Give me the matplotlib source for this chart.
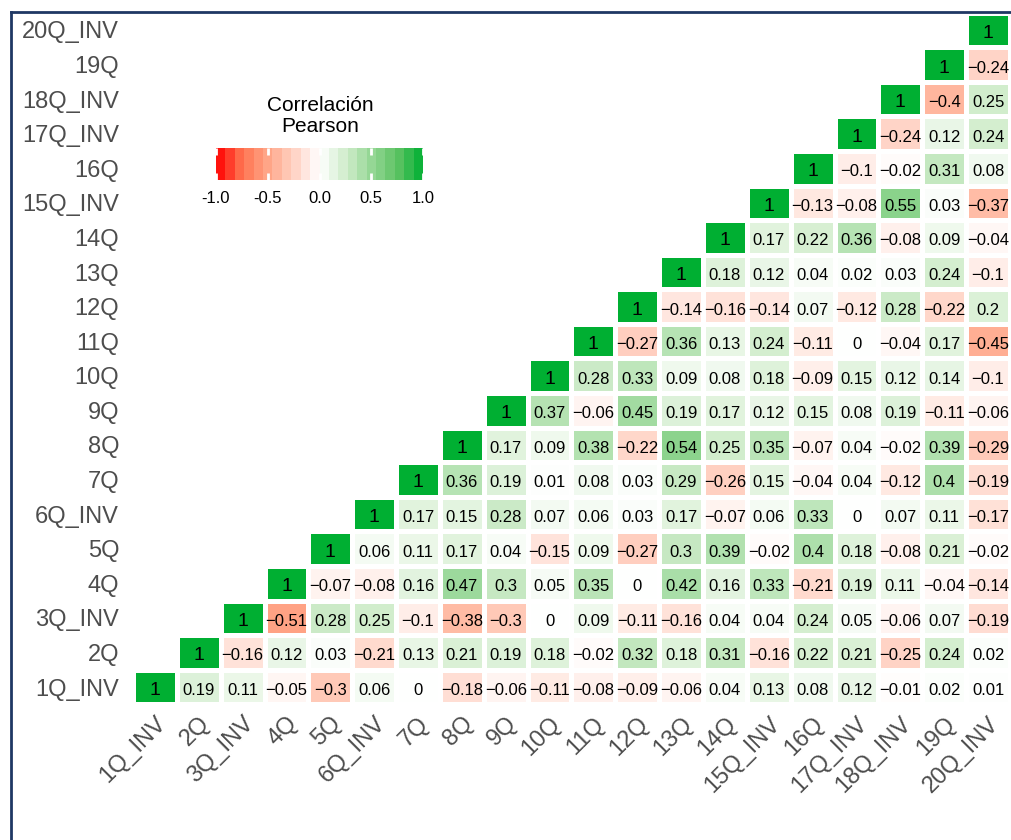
import numpy as np
import matplotlib
matplotlib.use("Agg")
import matplotlib.pyplot as plt
from matplotlib.colors import LinearSegmentedColormap, Normalize
from matplotlib.lines import Line2D

plt.rcParams["font.family"] = ["Liberation Sans", "DejaVu Sans"]

LABELS = ["1Q_INV", "2Q", "3Q_INV", "4Q", "5Q", "6Q_INV", "7Q", "8Q", "9Q", "10Q",
          "11Q", "12Q", "13Q", "14Q", "15Q_INV", "16Q", "17Q_INV", "18Q_INV", "19Q", "20Q_INV"]

# each row: correlation of that variable with itself and every later column
r01 = [1, 0.19, 0.11, -0.05, -0.3, 0.06, 0, -0.18, -0.06, -0.11, -0.08, -0.09, -0.06, 0.04, 0.13, 0.08, 0.12, -0.01, 0.02, 0.01]
r02 = [1, -0.16, 0.12, 0.03, -0.21, 0.13, 0.21, 0.19, 0.18, -0.02, 0.32, 0.18, 0.31, -0.16, 0.22, 0.21, -0.25, 0.24, 0.02]
r03 = [1, -0.51, 0.28, 0.25, -0.1, -0.38, -0.3, 0, 0.09, -0.11, -0.16, 0.04, 0.04, 0.24, 0.05, -0.06, 0.07, -0.19]
r04 = [1, -0.07, -0.08, 0.16, 0.47, 0.3, 0.05, 0.35, 0, 0.42, 0.16, 0.33, -0.21, 0.19, 0.11, -0.04, -0.14]
r05 = [1, 0.06, 0.11, 0.17, 0.04, -0.15, 0.09, -0.27, 0.3, 0.39, -0.02, 0.4, 0.18, -0.08, 0.21, -0.02]
r06 = [1, 0.17, 0.15, 0.28, 0.07, 0.06, 0.03, 0.17, -0.07, 0.06, 0.33, 0, 0.07, 0.11, -0.17]
r07 = [1, 0.36, 0.19, 0.01, 0.08, 0.03, 0.29, -0.26, 0.15, -0.04, 0.04, -0.12, 0.4, -0.19]
r08 = [1, 0.17, 0.09, 0.38, -0.22, 0.54, 0.25, 0.35, -0.07, 0.04, -0.02, 0.39, -0.29]
r09 = [1, 0.37, -0.06, 0.45, 0.19, 0.17, 0.12, 0.15, 0.08, 0.19, -0.11, -0.06]
r10 = [1, 0.28, 0.33, 0.09, 0.08, 0.18, -0.09, 0.15, 0.12, 0.14, -0.1]
r11 = [1, -0.27, 0.36, 0.13, 0.24, -0.11, 0, -0.04, 0.17, -0.45]
r12 = [1, -0.14, -0.16, -0.14, 0.07, -0.12, 0.28, -0.22, 0.2]
r13 = [1, 0.18, 0.12, 0.04, 0.02, 0.03, 0.24, -0.1]
r14 = [1, 0.17, 0.22, 0.36, -0.08, 0.09, -0.04]
r15 = [1, -0.13, -0.08, 0.55, 0.03, -0.37]
r16 = [1, -0.1, -0.02, 0.31, 0.08]
r17 = [1, -0.24, 0.12, 0.24]
r18 = [1, -0.4, 0.25]
r19 = [1, -0.24]
r20 = [1]
ROWS = [r01, r02, r03, r04, r05, r06, r07, r08, r09, r10,
        r11, r12, r13, r14, r15, r16, r17, r18, r19, r20]

LEGEND_TICKS = [-1.0, -0.5, 0.0, 0.5, 1.0]

n = len(LABELS)
M = np.full((n, n), np.nan)       # M[row, col]
for i, row in enumerate(ROWS):
    M[i, i:] = row

cmap = LinearSegmentedColormap.from_list("rwg", [
    (0.0, "#FF0000"), (0.125, "#FF7350"), (0.25, "#FFA587"), (0.375, "#FFD2C4"),
    (0.5, "#FFFFFF"), (0.625, "#D2EDCD"), (0.75, "#96D796"), (0.875, "#5FC364"),
    (1.0, "#00AF32")])
norm = Normalize(-1, 1)

fig = plt.figure(figsize=(10.12, 8.4), dpi=100)
ax = fig.add_axes([133 / 1012, 1 - 704.3 / 840, 877 / 1012, 691.6 / 840])
ax.pcolormesh(np.arange(n + 1) - 0.5, np.arange(n + 1) - 0.5, np.ma.masked_invalid(M),
              cmap=cmap, norm=norm, edgecolors="white", linewidth=2.5)
ax.set_xlim(-0.5, n - 0.5)
ax.set_ylim(-0.5, n - 0.5)
for s in ax.spines.values():
    s.set_visible(False)

for i in range(n):
    for j in range(i, n):
        v = M[i, j]
        txt = f"{v:g}".replace("-", "\u2212")
        ax.text(j, i - 0.1, txt, ha="center", va="center",
                fontsize=14 if v == 1 else 12)

ax.set_xticks(range(n))
ax.set_xticklabels(LABELS, rotation=45, ha="right", va="top", rotation_mode="anchor",
                   fontsize=17, color="#4D4D4D")
ax.set_yticks(range(n))
ax.set_yticklabels(LABELS, fontsize=17, color="#4D4D4D")
ax.tick_params(axis="y", length=0, pad=10)
ax.tick_params(axis="x", length=0, pad=6)

# legend (binned colour bar)
cax = fig.add_axes([216 / 1012, 1 - 180 / 840, 207 / 1012, 32 / 840])
edges = np.linspace(-1, 1, 23)
centers = (edges[:-1] + edges[1:]) / 2
cax.pcolormesh(edges, [0, 1], centers[None, :], cmap=cmap, norm=norm)
cax.set_xlim(-1, 1)
cax.set_ylim(0, 1)
cax.set_yticks([])
cax.set_xticks(LEGEND_TICKS)
cax.set_xticklabels([f"{t:.1f}" for t in LEGEND_TICKS], fontsize=12)
cax.tick_params(axis="x", direction="in", color="white", length=5, width=2,
                top=True, bottom=True, pad=8)
for s in cax.spines.values():
    s.set_visible(False)
fig.text(320 / 1012, 1 - 116 / 840, "Correlación\nPearson", ha="center", va="center",
         fontsize=15, linespacing=1.15)

# navy frame
fig.add_artist(Line2D([11 / 1012, 11 / 1012], [0, 1 - 12 / 840], color="#1F3864", lw=2))
fig.add_artist(Line2D([11 / 1012, 1], [1 - 12 / 840, 1 - 12 / 840], color="#1F3864", lw=2))

fig.savefig("out.png", dpi=100)
